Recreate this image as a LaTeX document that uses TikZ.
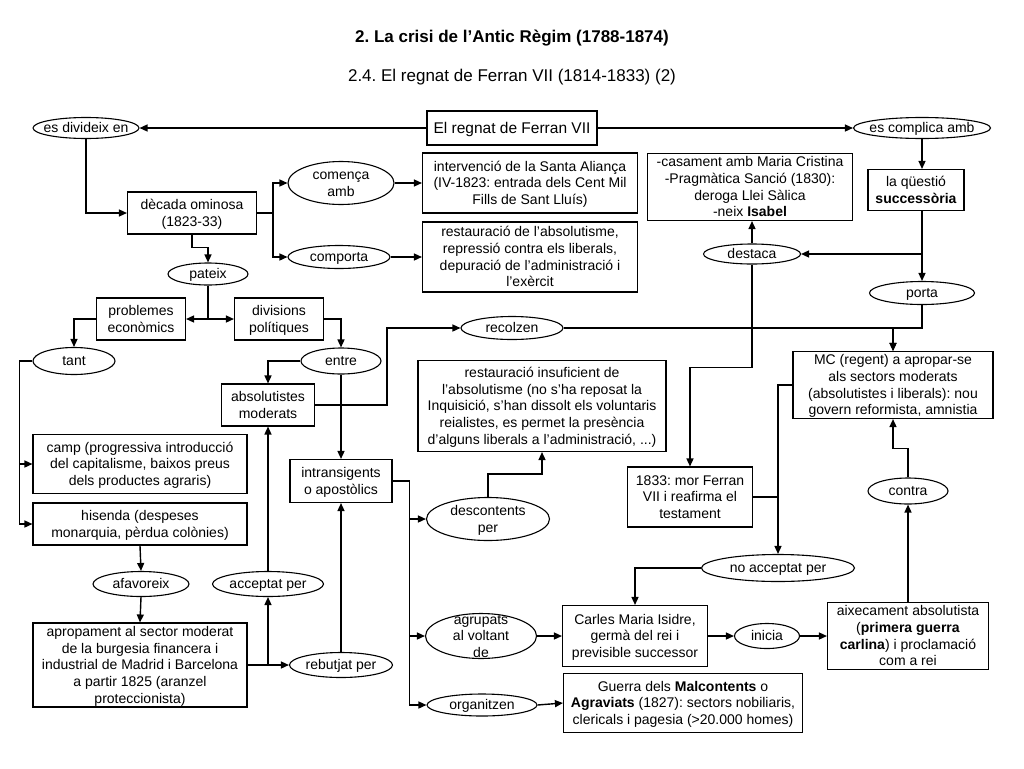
\documentclass[tikz,border=0pt]{standalone}
\usepackage{fontspec}
\setmainfont{Liberation Sans}
\usepackage{tikz}
\usetikzlibrary{arrows.meta,shapes.geometric,positioning,calc}
\frenchspacing
\newcommand{\bodyfont}{\fontsize{14}{16.7}\selectfont}
\newcommand{\ct}[1]{\makebox[0pt]{\raisebox{-0.36em}[0pt][0pt]{\begin{tabular}{@{}c@{}}#1\end{tabular}}}}
\tikzset{
  cbox/.style 2 args={rectangle, draw, line width=1.1pt, inner sep=0pt,
                      minimum width=#1pt, minimum height=#2pt, font=\bodyfont},
  oval/.style 2 args={ellipse, draw, line width=1.1pt, inner sep=0pt,
                      minimum width=#1pt, minimum height=#2pt, font=\bodyfont},
  arr/.style={-{Triangle[length=8pt,width=7pt]}, line width=1.4pt},
  lnk/.style={line width=1.4pt},
}

\begin{document}
\begin{tikzpicture}[x=1pt, y=-1pt]
  \useasboundingbox[fill=white] (0,0) rectangle (1024,768);
  % titles
  \node[font=\fontsize{17}{20}\selectfont\bfseries] (title) at (512,38) {2. La crisi de l’Antic Règim (1788-1874)};
  \node[font=\fontsize{17}{20}\selectfont] (subtitle) at (512,77) {2.4. El regnat de Ferran VII (1814-1833) (2)};

  % top row
  \node[cbox={170}{34}, font=\fontsize{15.5}{18}\selectfont] (regnat) at (512,128) {\ct{El regnat de Ferran VII}};
  \node[oval={106}{21}] (divid) at (86,128) {\ct{es divideix en}};
  \node[oval={137}{21}] (compl) at (922,128) {\ct{es complica amb}};

  % decada ominosa
  \node[cbox={129}{42}] (decada) at (192,213) {\ct{dècada ominosa\\(1823-33)}};
  \node[oval={106}{43}] (comenca) at (341,183) {\ct{comença\\amb}};
  \node[oval={102}{23}] (comporta) at (339,257) {\ct{comporta}};
  \node[cbox={215}{60}] (interv) at (530,183) {\ct{intervenció de la Santa Aliança\\(IV-1823: entrada dels Cent Mil\\Fills de Sant Lluís)}};
  \node[cbox={215}{70}] (restabs) at (530,257) {\ct{restauració de l’absolutisme,\\repressió contra els liberals,\\depuració de l’administració i\\l’exèrcit}};

  % successio
  \node[cbox={205}{67}] (casament) at (750,187) {\ct{-casament amb Maria Cristina\\-Pragmàtica Sanció (1830):\\deroga Llei Sàlica\\-neix \textbf{Isabel}}};
  \node[cbox={96}{41}] (successoria) at (916,190) {\ct{la qüestió\\\textbf{successòria}}};
  \node[oval={97}{20}] (destaca) at (752,254) {\ct{destaca}};
  \node[oval={105}{23}] (porta) at (922,293) {\ct{porta}};
  \node[cbox={200}{67}] (mc) at (893,385) {\ct{MC (regent) a apropar-se\\als sectors moderats\\(absolutistes i liberals): nou\\govern reformista, amnistia}};
  \node[cbox={125}{60}] (mor1833) at (690,497) {\ct{1833: mor Ferran\\VII i reafirma el\\testament}};
  \node[oval={80}{26}] (contra) at (908,491) {\ct{contra}};
  \node[oval={153}{27}] (noacc) at (778,568) {\ct{no acceptat per}};

  % pateix
  \node[oval={80}{22}] (pateix) at (208,274) {\ct{pateix}};
  \node[cbox={89}{42}] (problemes) at (141,319) {\ct{problemes\\econòmics}};
  \node[cbox={89}{42}] (divisions) at (279,319) {\ct{divisions\\polítiques}};
  \node[oval={82}{27}] (tant) at (74,361) {\ct{tant}};
  \node[oval={80}{26}] (entre) at (341,361) {\ct{entre}};
  \node[oval={102}{23}] (recolzen) at (512,328) {\ct{recolzen}};
  \node[cbox={93}{42}] (absmod) at (268,405) {\ct{absolutistes\\moderats}};
  \node[cbox={248}{91}] (restins) at (542,406) {\ct{restauració insuficient de\\l’absolutisme (no s’ha reposat la\\Inquisició, s’han dissolt els voluntaris\\reialistes, es permet la presència\\d’alguns liberals a l’administració, ...)}};
  \node[cbox={214}{59}] (camp) at (140,464) {\ct{camp (progressiva introducció\\del capitalisme, baixos preus\\dels productes agraris)}};
  \node[cbox={214}{42}] (hisenda) at (140,524) {\ct{hisenda (despeses\\monarquia, pèrdua colònies)}};
  \node[cbox={102}{43}] (intrans) at (341,481) {\ct{intransigents\\o apostòlics}};
  \node[oval={123}{43}] (descont) at (488,519) {\ct{descontents\\per}};

  % bottom
  \node[oval={96}{25}] (afav) at (141,584) {\ct{afavoreix}};
  \node[oval={111}{25}] (accept) at (268,584) {\ct{acceptat per}};
  \node[cbox={214}{84}] (apropament) at (140,665) {\ct{apropament al sector moderat\\de la burgesia financera i\\industrial de Madrid i Barcelona\\a partir 1825 (aranzel\\proteccionista)}};
  \node[oval={103}{25}] (rebut) at (341,665) {\ct{rebutjat per}};
  \node[oval={111}{45}] (agrup) at (481,636) {\ct{agrupats\\al voltant\\de}};
  \node[cbox={145}{61}] (carles) at (635,636) {\ct{Carles Maria Isidre,\\germà del rei i\\previsible successor}};
  \node[oval={65}{25}] (inicia) at (767,636) {\ct{inicia}};
  \node[cbox={161}{67}] (aixec) at (908,636) {\ct{aixecament absolutista\\(\textbf{primera guerra}\\\textbf{carlina}) i proclamació\\com a rei}};
  \node[oval={110}{22}] (organ) at (482,705) {\ct{organitzen}};
  \node[cbox={239}{59}] (guerra) at (683,703) {\ct{Guerra dels \textbf{Malcontents} o\\\textbf{Agraviats} (1827): sectors nobiliaris,\\clericals i pagesia (>20.000 homes)}};

  % connectors
  \draw[arr] (regnat.west) -- (divid.east);
  \draw[arr] (regnat.east) -- (compl.west);
  \draw[arr] (divid.south) |- (decada.west);
  \draw[arr] (decada.east) -- ++(16,0) |- (comenca.west);
  \draw[arr] (decada.east) -- ++(16,0) |- (comporta.west);
  \draw[arr] (comenca.east) -- (interv.west);
  \draw[arr] (comporta.east) -- (restabs.west);
  \draw[arr] (compl.south) -- (compl.south |- successoria.north);
  \draw[arr] (compl |- successoria.south) -- (porta.north);
  \draw[arr] (compl |- destaca.east) -- (destaca.east);
  \draw[arr] (destaca.north) -- (destaca.north |- casament.south);
  \draw[arr] (destaca.south) -- ++(0,103) -| (mor1833.north);
  \draw[arr] (porta.south) -- (porta.south |- recolzen.east) -| (mc.north);
  \draw[arr] (recolzen.east) -| (mc.north);
  \draw[arr] (absmod.east) -- ++(72,0) |- (recolzen.west);
  \draw[arr] (decada.south) -- ++(0,13) -| (pateix.north);
  \draw[arr] (pateix.south) |- (problemes.east);
  \draw[arr] (pateix.south) |- (divisions.west);
  \draw[arr] (problemes.west) -| (tant.north);
  \draw[arr] (tant.west) -- ++(-13,0) |- (camp.west);
  \draw[arr] (tant.west) -- ++(-13,0) |- (hisenda.west);
  \draw[arr] (divisions.east) -| (entre.north);
  \draw[arr] (entre.west) -| (absmod.north);
  \draw[arr] (entre.south) -- (intrans.north);
  \draw[arr] (intrans.east) -- ++(17,0) |- (descont.west);
  \draw[arr] (intrans.east) -- ++(17,0) |- (agrup.west);
  \draw[arr] (intrans.east) -- ++(17,0) |- (organ.west);
  \draw[arr] (descont.north) -- ++(0,-23) -| (restins.south);
  \draw[arr] (hisenda.south) -- (afav.north);
  \draw[arr] (afav.south) -- (apropament.north);
  \draw[arr] (apropament.east) -- (rebut.west);
  \draw[arr] (apropament.east -| accept.south) -- (accept.south);
  \draw[arr] (accept.north) -- (absmod.south);
  \draw[arr] (rebut.north) -- (intrans.south);
  \draw[arr] (mc.west) -| (noacc.north);
  \draw[lnk] (mor1833.east) -- (mor1833.east -| noacc.north);
  \draw[arr] (noacc.west) -| (carles.north);
  \draw[arr] (agrup.east) -- (carles.west);
  \draw[arr] (carles.east) -- (inicia.west);
  \draw[arr] (inicia.east) -- (aixec.west);
  \draw[arr] (aixec.north) -- (contra.south);
  \draw[arr] (contra.north) -- ++(0,-29) -| (mc.south);
  \draw[arr] (organ.east) -- (guerra.west);
\end{tikzpicture}
\end{document}
